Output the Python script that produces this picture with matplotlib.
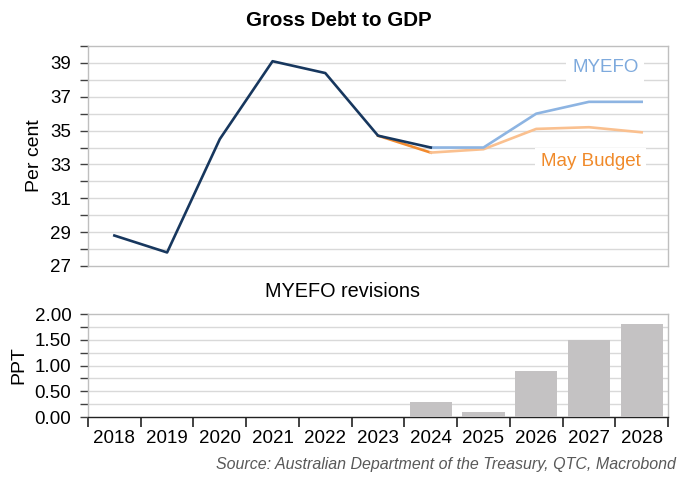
import numpy as np
import matplotlib.pyplot as plt
from matplotlib.ticker import MultipleLocator, FixedLocator, NullFormatter

plt.rcParams['font.family'] = ['Liberation Sans', 'DejaVu Sans']

years = ['2018', '2019', '2020', '2021', '2022', '2023', '2024', '2025', '2026', '2027', '2028']

# historical gross debt to GDP (per cent), 2018-2024
hist_years = ['2018', '2019', '2020', '2021', '2022', '2023', '2024']
hist_vals = [28.8, 27.8, 34.5, 39.1, 38.4, 34.7, 34.0]

# MYEFO projection
myefo_years = ['2024', '2025', '2026', '2027', '2028']
myefo_vals = [34.0, 34.0, 36.0, 36.7, 36.7]

# May Budget
budget_hist_years = ['2023', '2024']
budget_hist_vals = [34.7, 33.7]
budget_years = ['2024', '2025', '2026', '2027', '2028']
budget_vals = [33.7, 33.9, 35.1, 35.2, 34.9]

# MYEFO revisions (ppt)
rev_years = ['2024', '2025', '2026', '2027', '2028']
rev_vals = [0.3, 0.1, 0.9, 1.5, 1.8]

pos = {y: i for i, y in enumerate(years)}
def xs(lst):
    return [pos[y] for y in lst]

navy = '#17375E'
lblue = '#8DB4E2'
orange = '#F28A2E'
lorange = '#FAC08F'
grid_c = '#D9D9D9'
spine_c = '#BFBFBF'
tick_c = '#404040'

fig = plt.figure(figsize=(6.78, 4.79), dpi=100)
ax1 = fig.add_axes([0.1298, 0.4447, 0.8555, 0.4593])
ax2 = fig.add_axes([0.1298, 0.1294, 0.8555, 0.2150])

# ---- top panel
ax1.plot(xs(budget_hist_years), budget_hist_vals, color=orange, lw=1.9, zorder=3)
ax1.plot(xs(budget_years), budget_vals, color=lorange, lw=1.9, zorder=3)
ax1.plot(xs(myefo_years), myefo_vals, color=lblue, lw=1.9, zorder=4)
ax1.plot(xs(hist_years), hist_vals, color=navy, lw=1.9, zorder=5)

ax1.set_xlim(-0.5, 10.5)
ax1.set_ylim(27, 40)
ax1.yaxis.set_major_locator(FixedLocator([27, 29, 31, 33, 35, 37, 39]))
ax1.yaxis.set_minor_locator(FixedLocator([28, 30, 32, 34, 36, 38, 40]))
ax1.set_xticks([])
for y in range(28, 40):
    ax1.axhline(y, color=grid_c, lw=1, zorder=1)
ax1.tick_params(axis='y', which='both', length=6, width=1, color=tick_c, labelsize=13.5, pad=6)
for s in ax1.spines.values():
    s.set_color(spine_c)
    s.set_linewidth(1)
ax1.set_ylabel('Per cent', fontsize=14, labelpad=5)

ax1.text(9.31, 38.7, 'MYEFO', color='#7EAADD', fontsize=13.5, ha='center', va='center',
         bbox=dict(facecolor='white', edgecolor='none', pad=4), zorder=6)
ax1.text(9.03, 33.15, 'May Budget', color='#F08A2A', fontsize=13.5, ha='center', va='center',
         bbox=dict(facecolor='white', edgecolor='none', pad=4), zorder=6)

fig.text(0.5, 0.958, 'Gross Debt to GDP', ha='center', va='center',
         fontsize=14.8, fontweight='bold')
fig.text(0.505, 0.392, 'MYEFO revisions', ha='center', va='center', fontsize=14.3)

# ---- bottom panel
ax2.bar(xs(rev_years), rev_vals, width=0.8, color='#C4C2C3', zorder=3)
ax2.set_xlim(-0.5, 10.5)
ax2.set_ylim(0, 2.0)
ax2.yaxis.set_major_locator(MultipleLocator(0.5))
ax2.yaxis.set_minor_locator(MultipleLocator(0.25))
ax2.set_yticklabels([f'{v:.2f}' for v in ax2.get_yticks()])
for y in np.arange(0.25, 2.0, 0.25):
    ax2.axhline(y, color=grid_c, lw=1, zorder=1)
ax2.tick_params(axis='y', which='both', length=6, width=1, color=tick_c, labelsize=13.5, pad=6)

ax2.xaxis.set_major_locator(FixedLocator(np.arange(-0.5, 11, 1)))
ax2.xaxis.set_major_formatter(NullFormatter())
ax2.xaxis.set_minor_locator(FixedLocator(range(len(years))))
ax2.set_xticklabels(years, minor=True)
ax2.tick_params(axis='x', which='major', length=7, width=1.2, color='#222222')
ax2.tick_params(axis='x', which='minor', length=0, labelsize=13.5, pad=9)
for s in ax2.spines.values():
    s.set_color(spine_c)
    s.set_linewidth(1)
ax2.spines['bottom'].set_color('#222222')
ax2.set_ylabel('PPT', fontsize=14, labelpad=5)

fig.text(0.997, 0.021, 'Source: Australian Department of the Treasury, QTC, Macrobond',
         ha='right', va='baseline', fontsize=11.5, style='italic', color='#595959')

fig.savefig('out.png', dpi=100)
